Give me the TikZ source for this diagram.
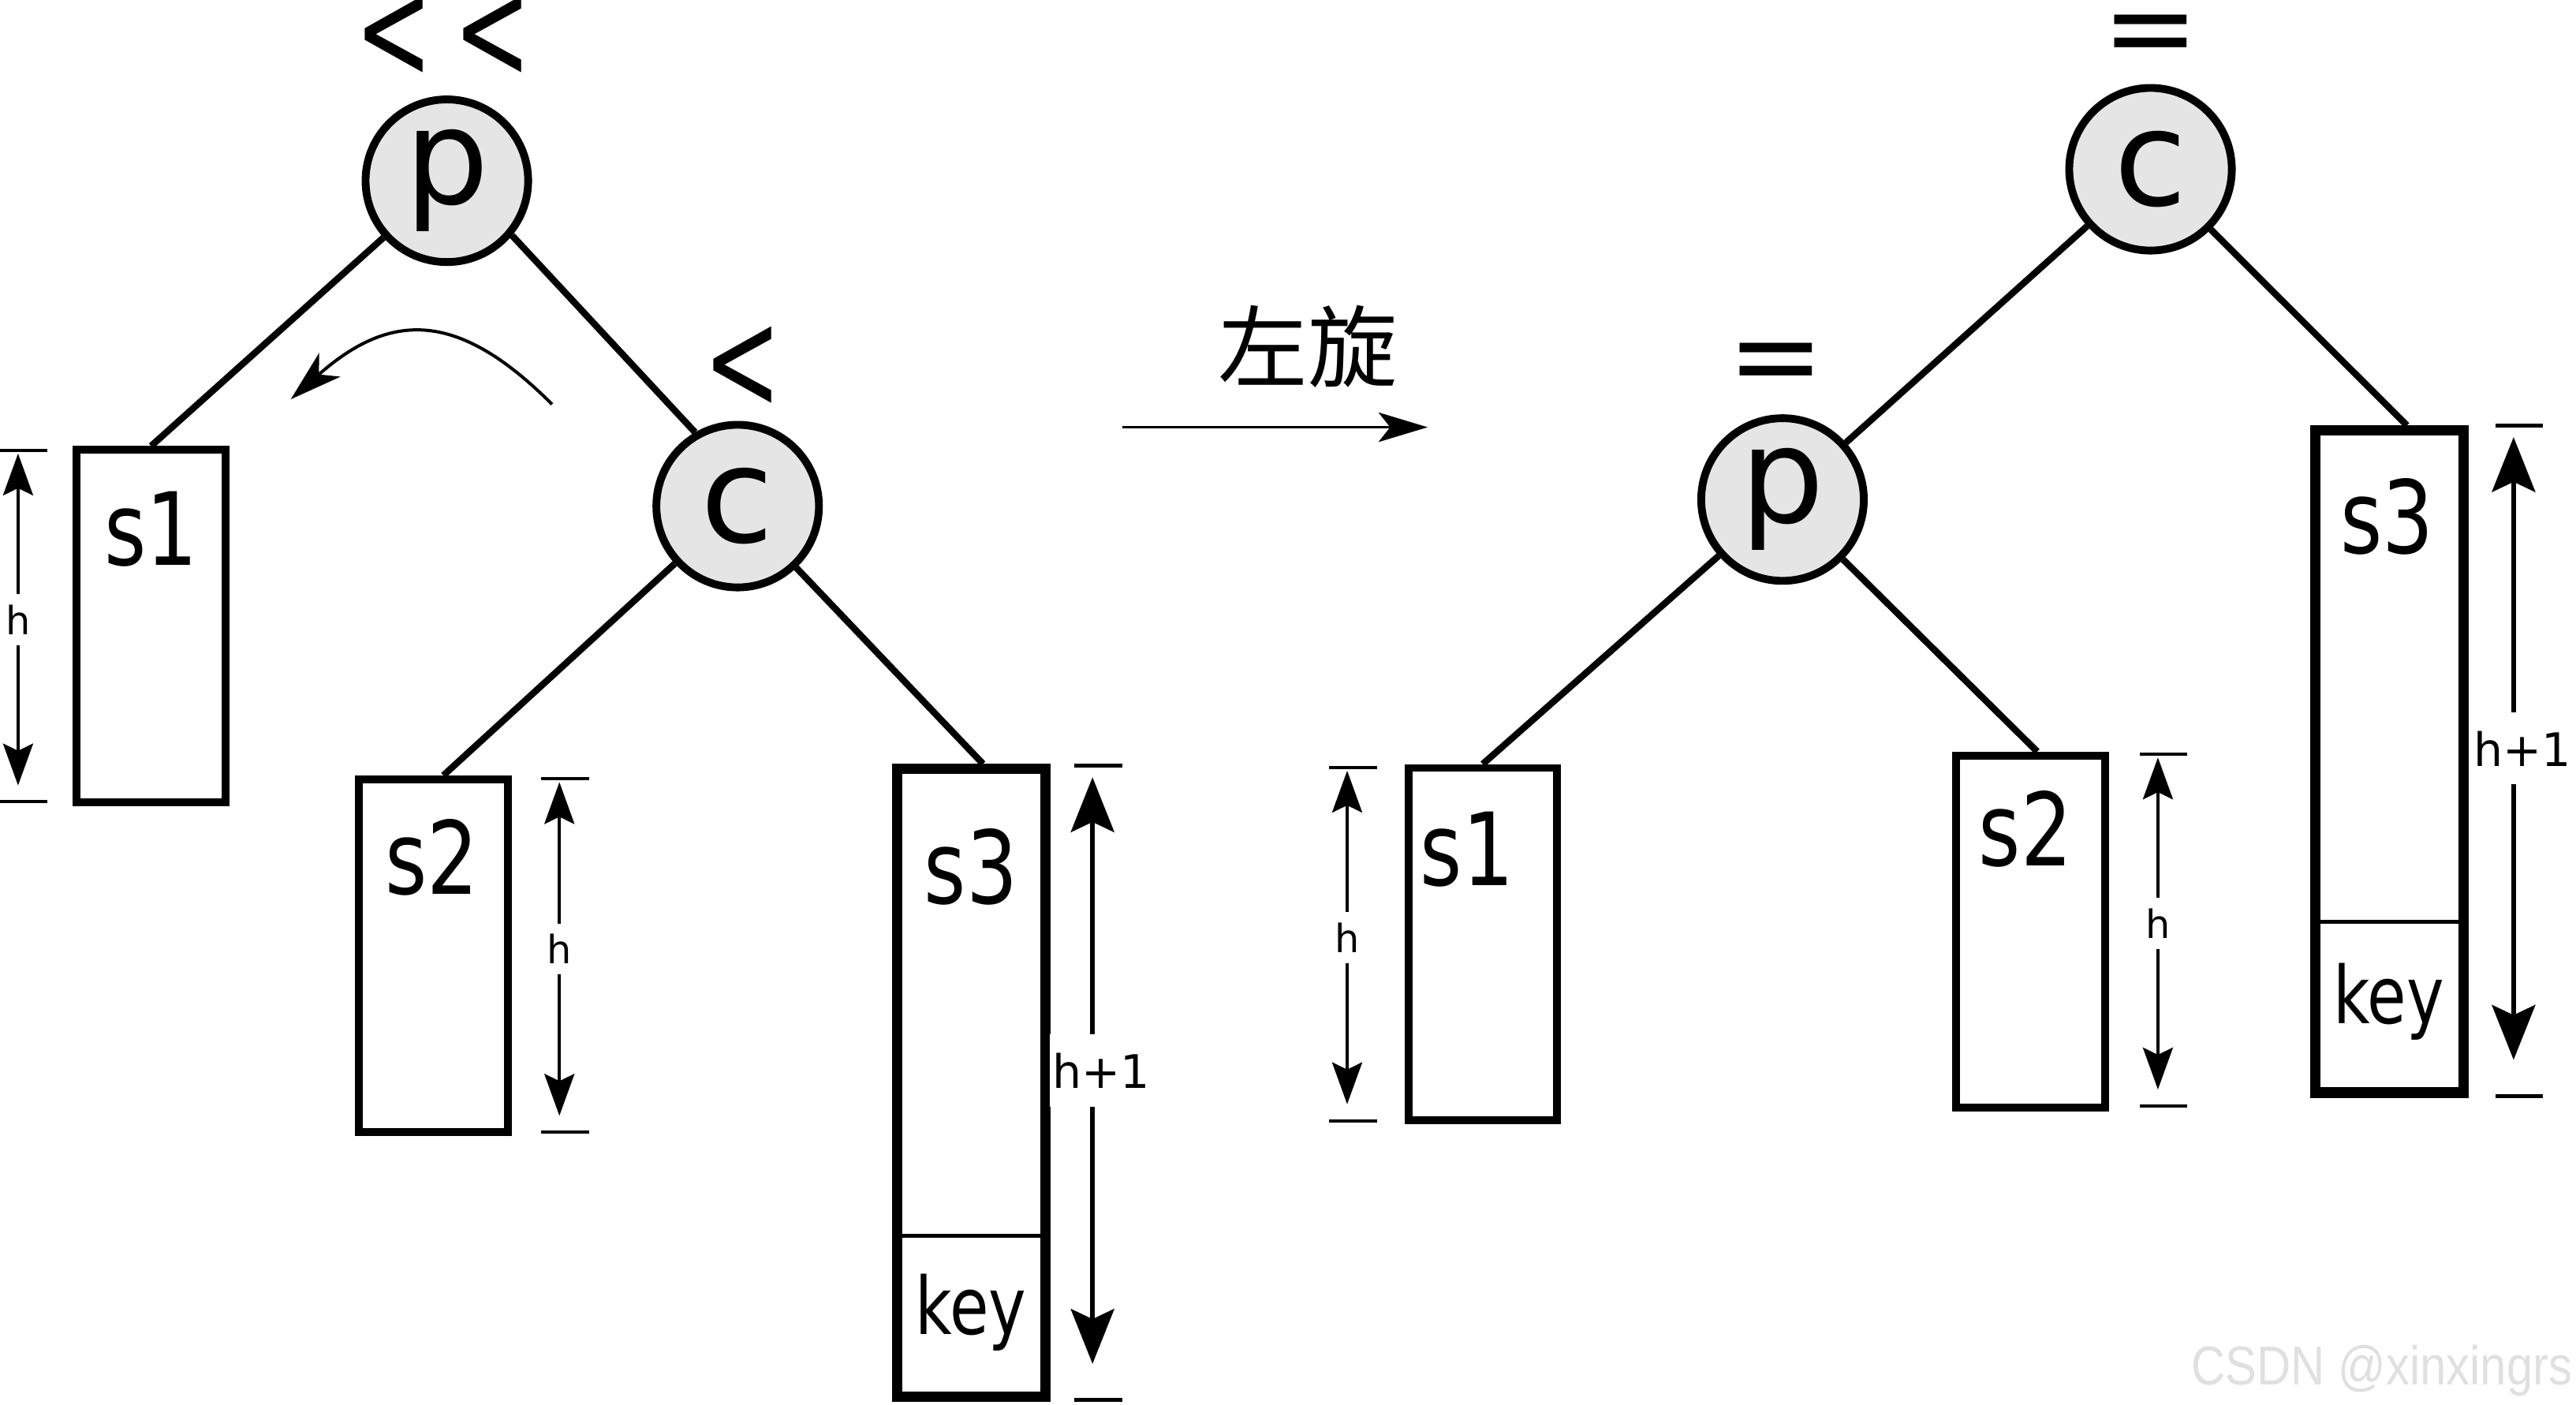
\documentclass[tikz,border=0pt]{standalone}
\usepackage{fontspec}
\setmainfont{DejaVu Sans}
\newfontfamily\narrowfont[FakeStretch=0.8]{DejaVu Sans}
\newfontfamily\cjk{Noto Sans CJK SC}
\newfontfamily\wmfont{Liberation Sans}
\usetikzlibrary{arrows.meta}
\newcommand{\fs}[1]{\fontsize{#1}{#1}\selectfont}
\newcommand{\tallless}{\scalebox{0.8}[1.24]{<}}

\begin{document}
\begin{tikzpicture}[x=0.02cm, y=-0.02cm,
    tnode/.style={circle, draw, line width=2.7pt, fill=black!10, minimum size=1.98cm, inner sep=0pt, font=\fs{46}},
    sub/.style={rectangle, draw, line width=2.7pt, minimum width=1.81cm, minimum height=4.29cm, inner sep=0pt},
    tallsub/.style={rectangle, draw, line width=3.6pt, minimum width=1.81cm, inner sep=0pt},
    edge/.style={line width=2.3pt},
    sname/.style={anchor=base, font=\narrowfont\fs{35}},
    keyname/.style={anchor=base, font=\narrowfont\fs{27.5}},
    bal/.style={font=\fs{40}, inner sep=0pt},
    tick/.style={line width=1.1pt},
    hdim/.style={line width=1pt, {Stealth[length=14.5pt,width=10.4pt,inset=2.5pt]}-{Stealth[length=14.5pt,width=10.4pt,inset=2.5pt]}},
    bigdim/.style={line width=1.6pt, {Stealth[length=19pt,width=15pt,inset=3.5pt]}-{Stealth[length=19pt,width=15pt,inset=3.5pt]}},
    hlbl/.style={fill=white, inner xsep=1pt, inner ysep=3.7pt, font=\fs{13.5}},
    biglbl/.style={fill=white, inner xsep=1pt, inner ysep=6.4pt, font=\fs{16}, xshift=3pt}]
    \useasboundingbox (0,0) rectangle (1568,855);

    % before the rotation
    \node[tnode] (pL) at (272,110) {p};
    \node[tnode] (cL) at (449,308) {c};
    \node[bal] (bpL1) at (240,23) {\tallless};
    \node[bal] (bpL2) at (300,23) {\tallless};
    \node[bal] (bcL) at (452,224) {\tallless};
    \node[sub] (s1L) at (92,381) {};
    \node[sub] (s2L) at (263.75,581.5) {};
    \node[tallsub, minimum height=7.64cm] (s3L) at (591.3,659) {};
    \node[sname] (t1L) at (92,344) {s1};
    \node[sname] (t2L) at (263,544) {s2};
    \node[sname] (t3L) at (591,550) {s3};
    \node[keyname] (kL) at (591,812) {key};
    \draw[line width=1.3pt] (546,752) -- (636,752);
    \draw[edge] (pL) -- (s1L.north);
    \draw[edge] (pL.-40) -- (cL.120);
    \draw[edge] (cL) -- ([xshift=3.5pt]s2L.north);
    \draw[edge] (cL) -- ([xshift=4pt]s3L.north);
    \coordinate (rotA) at (336,246);
    \coordinate (rotB) at (177,243);
    \draw[line width=1.1pt, -{Stealth[length=18pt,width=11pt,inset=5pt]}] (rotA) .. controls (279,189) and (238,189) .. (rotB);

    % the rotation
    \node[font=\cjk\fs{31}] (rot) at (796,211) {左旋};
    \coordinate (goA) at (683,260);
    \coordinate (goB) at (869,260);
    \draw[line width=0.9pt, -{Stealth[length=17pt,width=10.2pt,inset=4pt]}] (goA) -- (goB);

    % after the rotation
    \node[tnode] (cR) at (1309,103) {c};
    \node[tnode] (pR) at (1085,304) {p};
    \node[bal] (bcR) at (1309,25) {=};
    \node[bal] (bpR) at (1081,225) {=};
    \node[sub] (s1R) at (902.5,574.6) {};
    \node[sub] (s2R) at (1236,567) {};
    \node[tallsub, minimum height=8.06cm] (s3R) at (1454.5,463.5) {};
    \node[sname] (t1R) at (893,539) {s1};
    \node[sname] (t2R) at (1233,527) {s2};
    \node[sname] (t3R) at (1453,337) {s3};
    \node[keyname] (kR) at (1454,623) {key};
    \draw[line width=1.3pt] (1409,561) -- (1500,561);
    \draw[edge] (cR) -- (pR);
    \draw[edge] (cR) -- ([xshift=6pt]s3R.north);
    \draw[edge] (pR) -- (s1R.north);
    \draw[edge] (pR) -- ([xshift=2.3pt]s2R.north);

    % heights
    \foreach \x/\t/\b/\n in {11/274/488/hA, 340.5/474/689/hB, 820/467/682/hC, 1313.5/459/673/hD} {
        \draw[tick] (\x-11,\t) -- (\x+18,\t);
        \draw[tick] (\x-11,\b) -- (\x+18,\b);
        \draw[hdim] (\x,\t+2) -- node[hlbl] (\n) {h} (\x,\b-10);
    }
    \foreach \x/\t/\b/\n in {665/466/852/hE, 1530/259/667/hF} {
        \draw[tick, line width=1.4pt] (\x-11,\t) -- (\x+18,\t);
        \draw[tick, line width=1.4pt] (\x-11,\b) -- (\x+18,\b);
        \draw[bigdim] (\x,\t+7) -- node[biglbl] (\n) {h+1} (\x,\b-22);
    }

    \node[anchor=base east, font=\wmfont\fs{19}, text=black!12] (wm) at (1572,843) {\scalebox{0.86}[1]{CSDN @xinxingrs}};
\end{tikzpicture}
\end{document}
